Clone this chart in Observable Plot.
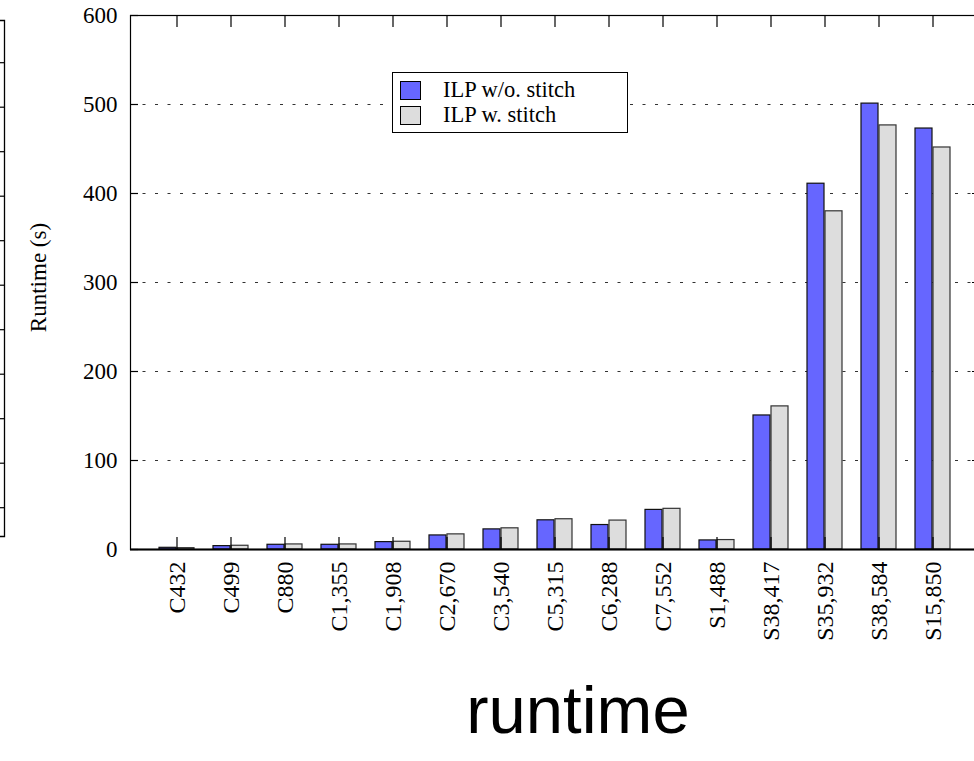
<!DOCTYPE html>
<html>
<head>
<meta charset="utf-8">
<script src="https://cdn.jsdelivr.net/npm/d3@7"></script>
<script src="https://cdn.jsdelivr.net/npm/@observablehq/plot@0.6"></script>
<style>
  html, body { margin: 0; padding: 0; background: #fff; overflow: hidden; }
  #wrap { position: relative; width: 974px; height: 761px; overflow: hidden; background: #fff; }
  #chart { position: absolute; left: 0; top: 0; width: 990px; }
  #chart svg { max-width: none !important; }
  #deco { position: absolute; left: 0; top: 0; }
  #legend { position: absolute; left: 392px; top: 72px; width: 234px; height: 59px; border: 1px solid #000; background: #fff;
            font-family: "Liberation Serif", "DejaVu Serif", serif; font-size: 22.5px; color: #000; }
  .item { position: absolute; left: 7px; height: 22px; line-height: 22px; display: flex; align-items: center; white-space: nowrap; }
  .sw { width: 19px; height: 17px; border: 1px solid #000; box-sizing: content-box; }
  .lab { margin-left: 22px; }
  #title { position: absolute; left: 378px; width: 400px; top: 675px; text-align: center;
           font-family: "Liberation Sans", Arial, sans-serif; font-size: 67px; line-height: 70px; color: #000; }
</style>
</head>
<body>
<div id="wrap">
  <div id="deco"></div>
  <div id="chart"></div>
  <div id="legend"></div>
  <div id="title">runtime</div>
</div>
<script>
// ---- data ----
const categories = ["C432","C499","C880","C1,355","C1,908","C2,670","C3,540","C5,315","C6,288","C7,552","S1,488","S38,417","S35,932","S38,584","S15,850"];
const seriesNames = ["ILP w/o. stitch", "ILP w. stitch"];
const withoutStitch = [1.9, 3.8, 5.3, 5.3, 8.3, 15.8, 22.6, 32.8, 27.5, 44.5, 10.2, 150.6, 411, 501, 473];
const withStitch    = [1.5, 4.2, 5.7, 5.7, 8.7, 17.0, 23.8, 34.0, 32.5, 45.7, 10.6, 160.8, 380, 476.5, 451.7];
const yTicks = [0, 100, 200, 300, 400, 500, 600];
const gridTicks = [100, 200, 300, 400, 500];
const yLabel = "Runtime (s)";
const colors = ["#6666ff", "#dddddd"];
const strokes = ["#111", "#333"];

const rowsA = categories.map((c, i) => ({category: c, value: withoutStitch[i]}));
const rowsB = categories.map((c, i) => ({category: c, value: withStitch[i]}));

const serif = "Liberation Serif, DejaVu Serif, serif";

const chart = Plot.plot({
  width: 990,
  height: 660,
  marginLeft: 130,
  marginRight: 10,
  marginTop: 15,
  marginBottom: 111,
  style: {fontFamily: serif, fontSize: "23px", background: "transparent", color: "#000", maxWidth: "none"},
  x: {type: "band", domain: categories, paddingInner: 0.345, paddingOuter: 0.4},
  y: {domain: [0, 600]},
  marks: [
    Plot.gridY(gridTicks, {stroke: "#333", strokeOpacity: 1, strokeDasharray: "3,9.5"}),
    Plot.barY(rowsA, {x: "category", y: "value", fill: colors[0], stroke: strokes[0], strokeWidth: 1.2, insetRight: 18}),
    Plot.barY(rowsB, {x: "category", y: "value", fill: colors[1], stroke: strokes[1], strokeWidth: 1.2, insetLeft: 18}),
    Plot.frame({stroke: "#000", strokeWidth: 1.2}),
    Plot.ruleY([0], {stroke: "#000", strokeWidth: 2}),
    Plot.ruleY(yTicks, {y: d => d, insetRight: 842, stroke: "#000", strokeWidth: 1.2}),
    Plot.ruleY(yTicks, {y: d => d, insetLeft: 842, stroke: "#000", strokeWidth: 1.2}),
    Plot.ruleX(categories, {x: d => d, insetTop: 522, stroke: "#000", strokeWidth: 1.2}),
    Plot.ruleX(categories, {x: d => d, insetBottom: 522, stroke: "#000", strokeWidth: 1.2}),
    Plot.axisY({ticks: yTicks, tickSize: 0, tickPadding: 13, label: null, fontSize: 23, fill: "#000"}),
    Plot.axisX({tickRotate: -90, tickSize: 0, tickPadding: 12, label: null, fontSize: 24, fill: "#000"}),
    Plot.text([yLabel], {text: d => d, frameAnchor: "left", textAnchor: "middle", lineAnchor: "middle", rotate: -90, dx: -92, dy: -5, fontSize: 23, fill: "#000"})
  ]
});
document.getElementById("chart").appendChild(chart);

// ---- legend ----
const legend = d3.select("#legend");
const centers = [17, 42];
seriesNames.forEach((name, i) => {
  const item = legend.append("div").attr("class", "item").style("top", (centers[i] - 11) + "px");
  item.append("div").attr("class", "sw").style("background", colors[i]);
  item.append("span").attr("class", "lab").text(name);
});

// ---- cropped neighbouring panel edge on the far left ----
const decoTicks = d3.range(11);
const deco = d3.select("#deco").append("svg").attr("width", 10).attr("height", 761);
deco.append("path")
  .attr("d", "M0,20.5H4.5V536.5H0")
  .attr("fill", "none").attr("stroke", "#000").attr("stroke-width", 1.3);
deco.selectAll("line.t").data(decoTicks).join("line")
  .attr("x1", 0).attr("x2", 4.5)
  .attr("y1", d => 62.7 + d * 44.5).attr("y2", d => 62.7 + d * 44.5)
  .attr("stroke", "#000").attr("stroke-width", 1.2);
</script>
</body>
</html>
